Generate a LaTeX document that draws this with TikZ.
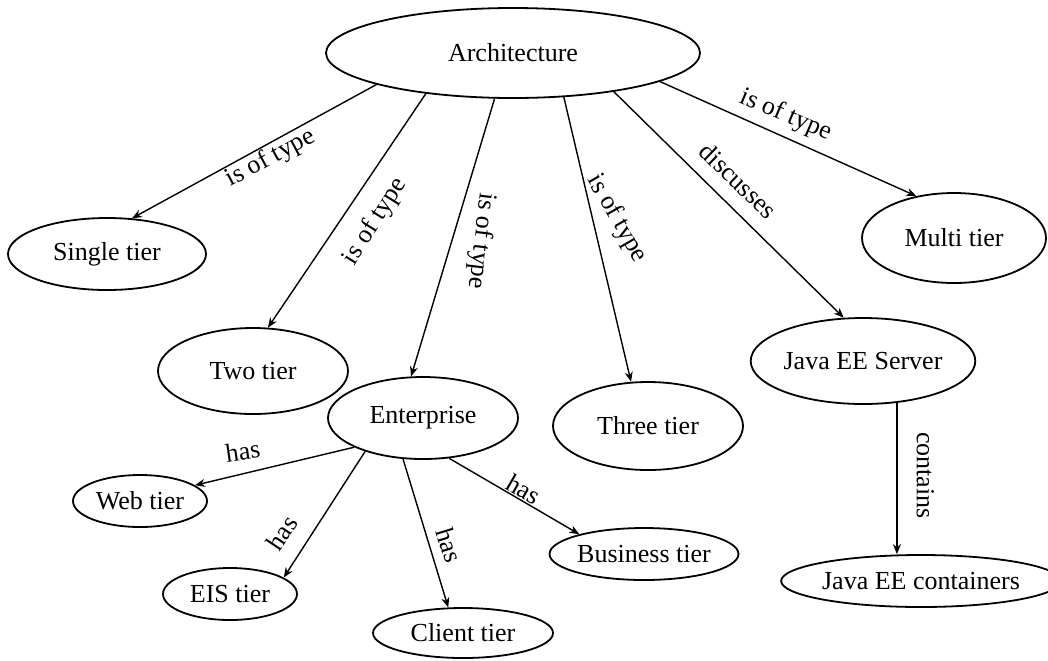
\documentclass[tikz,border=0pt]{standalone}
\usepackage{fontspec}
\setmainfont{Liberation Serif}
\usetikzlibrary{arrows.meta,shapes.geometric}

\tikzset{
  concept/.style={ellipse,draw,line width=0.9pt,inner sep=0pt,font=\fontsize{13}{15}\selectfont},
  rel/.style={->,line width=0.7pt},
  lbl/.style={font=\fontsize{13}{15}\selectfont,inner sep=1pt},
}

\begin{document}
\begin{tikzpicture}[x=0.5pt,y=-0.5pt,>={Stealth[length=5pt,width=4pt]}]
  \useasboundingbox (0,0) rectangle (1048,660);
  \node[concept,minimum width=187pt,minimum height=45pt] (arch) at (513,53) {Architecture};
  \node[concept,minimum width=99pt,minimum height=36pt] (single) at (107,254) {Single tier};
  \node[concept,minimum width=95pt,minimum height=43pt] (two) at (253,371) {Two tier};
  \node[concept,minimum width=95pt,minimum height=41pt] (ent) at (423,418) {Enterprise};
  \node[concept,minimum width=95pt,minimum height=44pt] (three) at (648,426) {Three tier};
  \node[concept,minimum width=92pt,minimum height=45pt] (multi) at (954,238) {Multi tier};
  \node[concept,minimum width=95pt,minimum height=43pt] (jserver) at (863,361) {Java EE Server};
  \node[concept,minimum width=126pt,minimum height=26pt] (jcont) at (921,581) {Java EE containers};
  \node[concept,minimum width=67pt,minimum height=26pt] (web) at (140,501) {Web tier};
  \node[concept,minimum width=67pt,minimum height=26pt] (eis) at (230,594) {EIS tier};
  \node[concept,minimum width=90pt,minimum height=25pt] (client) at (463,633) {Client tier};
  \node[concept,minimum width=89pt,minimum height=26pt] (business) at (644,554) {Business tier};

  \draw[rel] (arch.193) -- node[lbl,pos=0.46,rotate=28,anchor=north,inner sep=0.7pt] {is of type} (single.55);
  \draw[rel] (arch.205) -- node[lbl,pos=0.48,rotate=58,anchor=north,inner sep=8.5pt] {is of type} (two.71);
  \draw[rel] (arch.248) -- node[lbl,pos=0.5,rotate=-97,anchor=south,inner sep=8pt] {is of type} (ent.106);
  \draw[rel] (arch.-41) -- node[lbl,pos=0.47,rotate=-60,anchor=south,inner sep=6pt] {is of type} (three.111);
  \draw[rel] (arch.-21.5) -- node[lbl,pos=0.47,rotate=-44,anchor=south,inner sep=7pt] {discusses} (jserver.114);
  \draw[rel] (arch.-11) -- node[lbl,pos=0.46,rotate=-23,anchor=south,inner sep=3.8pt] {is of type} (multi.132);
  \draw[rel] (jserver.-51) -- node[lbl,pos=0.48,rotate=-90,anchor=south,inner sep=9.5pt] {contains} (jserver.-51 |- jcont.north);
  \draw[rel] (ent.203) -- node[lbl,pos=0.68,rotate=8,anchor=south,inner sep=6.3pt] {has} (web.16);
  \draw[rel] (ent.210) -- node[lbl,pos=0.76,rotate=56,anchor=south,inner sep=8pt] {has} (eis.17);
  \draw[rel] (ent.244) -- node[lbl,pos=0.62,rotate=-73,anchor=south,inner sep=4.7pt] {has} (client.120);
  \draw[rel] (ent.-57) -- node[lbl,pos=0.53,rotate=-30,anchor=south,inner sep=0.5pt] {has} (business.163);
\end{tikzpicture}
\end{document}
